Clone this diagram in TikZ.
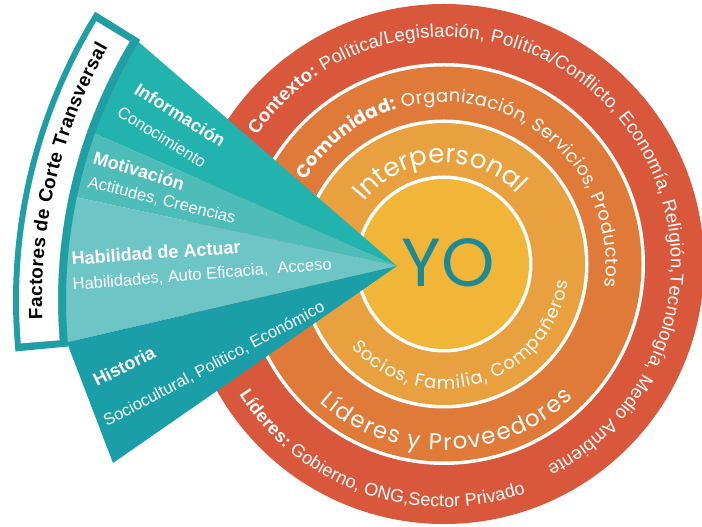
\documentclass[tikz,border=0pt]{standalone}
\usepackage{fontspec}
\setmainfont{Liberation Sans}
\newfontfamily\pop{Poppins}
\usetikzlibrary{calc,decorations.text}

\definecolor{redring}{HTML}{D9573A}
\definecolor{comring}{HTML}{E07A38}
\definecolor{intring}{HTML}{E9A03E}
\definecolor{yoring}{HTML}{F1B538}
\definecolor{yotext}{HTML}{1C8A96}
\definecolor{tInfo}{HTML}{23B3AE}
\definecolor{tMot}{HTML}{4EBCB9}
\definecolor{tHab}{HTML}{6DC5C6}
\definecolor{tHis}{HTML}{1A9FA9}
\definecolor{tBand}{HTML}{1F9EA3}

\newcommand\fctx{\fontsize{18.5}{18.5}\selectfont\mdseries}
\newcommand\fctxb{\fontsize{18.5}{18.5}\selectfont\bfseries}
\newcommand\fcom{\pop\fontsize{18}{18}\selectfont\mdseries}
\newcommand\fcomb{\pop\fontsize{18}{18}\selectfont\bfseries}
\newcommand\fintp{\pop\fontsize{26}{26}\selectfont}
\newcommand\fsoc{\pop\fontsize{18}{18}\selectfont}
\newcommand\flyp{\pop\fontsize{23}{23}\selectfont}
\newcommand\flid{\fontsize{18}{18}\selectfont\mdseries}
\newcommand\flidb{\fontsize{18}{18}\selectfont\bfseries}
\newcommand\ffac{\fontsize{19}{19}\selectfont\bfseries}

\begin{document}
\begin{tikzpicture}[x=1pt,y=1pt,
  ttl/.style={anchor=base west, text=white, font=\fontsize{18}{18}\selectfont\bfseries, inner sep=0pt},
  sub/.style={anchor=base west, text=white, font=\fontsize{16.5}{16.5}\selectfont, inner sep=0pt}]
\useasboundingbox (0,0) rectangle (702,527);
\coordinate (C) at (444,263);
\coordinate (A) at (397,261);
\coordinate (P) at (560,227);

% rings
\fill[redring] (C) circle[radius=260];
\fill[white] (C) circle[radius=201];
\fill[comring] (C) circle[radius=197.5];
\fill[white] (C) circle[radius=144.5];
\fill[intring] (C) circle[radius=141];
\fill[white] (C) circle[radius=88.5];
\fill[yoring] (C) circle[radius=85];

% ring texts
\path[shift={(C)}, decorate, decoration={text along path, text align=fit to path, text color=white,
  text={|\fctxb|Contexto:|\fctx| Política/Legislación, Política/Conflicto, Economía, Religión,Tecnología, Medio Ambiente}}]
  (145.5:227) arc[start angle=145.5, end angle=-63, radius=227];
\path[shift={(C)}, decorate, decoration={text along path, text align=fit to path, text color=white,
  text={|\fcomb|Comunidad:|\fcom| Organización, Servicios, Productos}}]
  (149:162) arc[start angle=149, end angle=-8, radius=162];
\path[shift={(C)}, decorate, decoration={text along path, text align=fit to path, text color=white,
  text={|\fintp|Interpersonal}}]
  (142:101) arc[start angle=142, end angle=43.5, radius=101];
\path[shift={(C)}, decorate, decoration={text along path, text align=fit to path, text color=white,
  text={|\fsoc|Socios, Familia, Compañeros}}]
  (222:125) arc[start angle=222, end angle=352, radius=125];
\path[shift={(C)}, decorate, decoration={text along path, text align=fit to path, text color=white,
  text={|\flyp|Líderes y Proveedores}}]
  (228:186) arc[start angle=228, end angle=314, radius=186];
\path[shift={(C)}, decorate, decoration={text along path, text align=fit to path, text color=white,
  text={|\flidb|Líderes:|\flid| Gobierno, ONG,Sector Privado}}]
  (212.5:243) arc[start angle=212.5, end angle=289.6, radius=243];

\node[text=yotext, font=\pop\fontsize{68}{68}\selectfont, inner sep=0pt] (yo) at (448.5,264) {YO};

% fan
\fill[tInfo] (A) -- ($(P)+(148.5:495)$) arc[start angle=148.5, end angle=160.3, radius=495] -- cycle;
\fill[tMot] (A) -- ($(P)+(160.3:495)$) arc[start angle=160.3, end angle=168, radius=495] -- cycle;
\fill[tHab] (A) -- ($(P)+(168:495)$) arc[start angle=168, end angle=184.9, radius=495] -- cycle;
\fill[tHis] (A) -- ($(P)+(184.9:495)$) -- (113,64) -- cycle;

% band
\fill[tBand] ($(P)+(148.2:547)$) arc[start angle=148.2, end angle=185.4, radius=547]
  -- ($(P)+(185.4:494)$) arc[start angle=185.4, end angle=148.2, radius=494] -- cycle;
\fill[white] ($(P)+(149.0:541)$) arc[start angle=149.0, end angle=184.6, radius=541]
  -- ($(P)+(184.6:502)$) arc[start angle=184.6, end angle=149.0, radius=502] -- cycle;
\path[shift={(P)}, decorate, decoration={text along path, text align=fit to path, text color=black,
  text={|\ffac|Factores de Corte Transversal}}]
  (182.2:518) arc[start angle=182.2, end angle=150.8, radius=518];

% fan texts
\node[ttl, rotate=-32] (info) at (133,434) {Información};
\node[sub, rotate=-32] (conoc) at (116,412) {Conocimiento};
\node[ttl, rotate=-17] (motiv) at (92,364) {Motivación};
\node[sub, rotate=-14] (actit) at (87,340) {Actitudes, Creencias};
\node[ttl, rotate=4] (habil) at (72,262) {Habilidad de Actuar};
\node[sub, rotate=4.5] (habs) at (73,237) {Habilidades, Auto Eficacia,\ \ Acceso};
\node[ttl, rotate=27] (hist) at (97,140) {Historia};
\node[sub, rotate=28] (socio) at (107,100) {Sociocultural, Politico, Económico};
\end{tikzpicture}
\end{document}
